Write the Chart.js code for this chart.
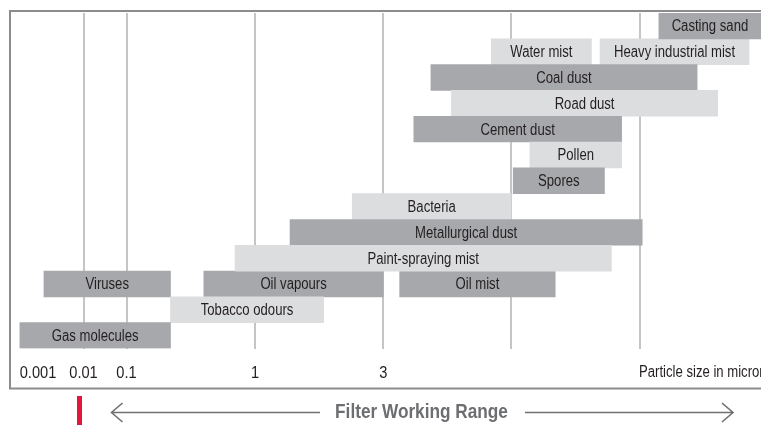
<!DOCTYPE html>
<html>
<head>
<meta charset="utf-8">
<script src="https://cdn.jsdelivr.net/npm/chart.js@4.4.1/dist/chart.umd.min.js"></script>
<style>
  html, body { margin: 0; padding: 0; background: #fff; overflow: hidden; }
  #wrap { width: 761px; height: 425px; }
</style>
</head>
<body>
<div id="wrap"><canvas id="chart" width="761" height="425"></canvas></div>
<script>
// Particle types, one row each, listed from the top row down
const rowNames = [
  'Casting sand', 'Water mist', 'Coal dust', 'Road dust', 'Cement dust',
  'Pollen', 'Spores', 'Bacteria', 'Metallurgical dust', 'Paint-spraying mist',
  'Viruses', 'Tobacco odours', 'Gas molecules'
];
// Size range in micron [from, to] of the main particle type in each row
const rowRanges = [
  [140, 870], [8.3, 42], [4.7, 277], [5.7, 400], [4.0, 72],
  [14, 72], [10.4, 53], [2.3, 10], [1.35, 104], [0.7, 60],
  [0.00135, 0.22], [0.22, 1.8], [0.0004, 0.22]
];
// A second particle type sharing a row
const secondNames = [null, 'Heavy industrial mist', null, null, null, null, null, null, null, null, 'Oil vapours', null, null];
const secondRanges = [null, [49, 700], null, null, null, null, null, null, null, null, [0.4, 3], null, null];
// A third particle type sharing a row
const thirdNames = [null, null, null, null, null, null, null, null, null, null, 'Oil mist', null, null];
const thirdRanges = [null, null, null, null, null, null, null, null, null, null, [3.5, 22], null, null];

// Sizes marked along the size axis, with their printed labels
const tickSizes = [0.001, 0.01, 0.1, 1, 3, 10, 100];
const tickLabels = ['0.001', '0.01', '0.1', '1', '3', '', ''];
const axisTitle = 'Particle size in micron';
const rangeTitle = 'Filter Working Range';

const FONT = '"Liberation Sans", Arial, Helvetica, sans-serif';
const NARROW = 0.82;          // horizontal squeeze giving a condensed face
const DARK = '#a7a8ab';
const LIGHT = '#dcdddf';
const INK = '#231f20';

// Size axis: logarithmic between marked sizes, but each interval gets its own
// share of the width (the sub-micron decades are compressed).
function makeSizeScale(sizes, stops) {
  const logs = sizes.map(Math.log10);
  function toDecimal(v) {
    const lv = Math.log10(v);
    let i = 0;
    while (i < logs.length - 2 && lv > logs[i + 1]) i++;
    const t = (lv - logs[i]) / (logs[i + 1] - logs[i]);
    return stops[i] + t * (stops[i + 1] - stops[i]);
  }
  function fromDecimal(d) {
    let i = 0;
    while (i < stops.length - 2 && d > stops[i + 1]) i++;
    const t = (d - stops[i]) / (stops[i + 1] - stops[i]);
    return Math.pow(10, logs[i] + t * (logs[i + 1] - logs[i]));
  }
  class SizeScale extends Chart.LinearScale {
    determineDataLimits() {
      this.min = sizes[0];
      this.max = sizes[sizes.length - 1];
    }
    buildTicks() {
      return sizes.map(v => ({ value: v }));
    }
    getPixelForValue(value) {
      return this.getPixelForDecimal(toDecimal(value));
    }
    getValueForPixel(pixel) {
      return fromDecimal(this.getDecimalForPixel(pixel));
    }
  }
  SizeScale.id = 'particleSize';
  SizeScale.defaults = {};
  return SizeScale;
}

Chart.register(makeSizeScale(tickSizes, [0.036, 0.0967, 0.154, 0.3253, 0.4964, 0.6667, 0.8387]));

const rowShade = ctx => (ctx.dataIndex % 2 === 0 ? DARK : LIGHT);

// Text in a horizontally condensed version of the face
function condensedText(ctx, text, x, y, align, squeeze) {
  ctx.save();
  ctx.translate(x, y);
  ctx.scale(squeeze, 1);
  ctx.textAlign = align;
  ctx.fillText(text, 0, 0);
  ctx.restore();
}

// Names printed in the middle of each bar, axis labels, the frame and the range arrow
const decorations = {
  id: 'decorations',
  beforeDraw(chart) {
    const ctx = chart.ctx;
    ctx.save();
    ctx.fillStyle = '#fff';
    ctx.fillRect(0, 0, chart.width, chart.height);
    ctx.restore();
  },
  afterDatasetsDraw(chart) {
    const ctx = chart.ctx;
    const area = chart.chartArea;
    ctx.save();
    ctx.font = '16px ' + FONT;
    ctx.fillStyle = INK;
    ctx.textBaseline = 'alphabetic';
    chart.data.datasets.forEach((ds, di) => {
      const meta = chart.getDatasetMeta(di);
      meta.data.forEach((el, i) => {
        const name = ds.names[i];
        if (!name || ds.data[i] == null) return;
        const p = el.getProps(['x', 'base', 'y'], true);
        // centre on the visible part of the bar
        const a = Math.max(Math.min(p.x, p.base), area.left);
        const b = Math.min(Math.max(p.x, p.base), area.right);
        condensedText(ctx, name, (a + b) / 2, p.y + 5.5, 'center', NARROW);
      });
    });
    ctx.restore();
  },
  afterDraw(chart) {
    const ctx = chart.ctx;
    const xs = chart.scales.x;
    ctx.save();
    ctx.fillStyle = INK;
    ctx.textBaseline = 'alphabetic';
    // size labels under their grid lines
    ctx.font = '17px ' + FONT;
    xs.ticks.forEach((t, i) => {
      if (tickLabels[i]) condensedText(ctx, tickLabels[i], xs.getPixelForTick(i), 377.5, 'center', 0.86);
    });
    // axis caption, starting at the last grid line
    ctx.font = '16px ' + FONT;
    condensedText(ctx, axisTitle, xs.getPixelForTick(xs.ticks.length - 1) - 1, 377, 'left', NARROW);

    // frame
    ctx.strokeStyle = '#8c8c8c';
    ctx.lineWidth = 2;
    ctx.strokeRect(10, 11, 800, 377.5);

    // red marker
    ctx.fillStyle = '#e2173b';
    ctx.fillRect(77, 396, 5, 29);

    // range arrow and title
    const y = 412.5;
    ctx.strokeStyle = '#6f7072';
    ctx.lineWidth = 1.6;
    ctx.beginPath();
    ctx.moveTo(111.5, y); ctx.lineTo(320, y);
    ctx.moveTo(122.5, y - 9.5); ctx.lineTo(111.5, y); ctx.lineTo(122.5, y + 9.5);
    ctx.moveTo(525, y); ctx.lineTo(733, y);
    ctx.moveTo(722, y - 9.5); ctx.lineTo(733, y); ctx.lineTo(722, y + 9.5);
    ctx.stroke();
    ctx.font = 'bold 21px ' + FONT;
    ctx.fillStyle = '#6d6e71';
    condensedText(ctx, rangeTitle, 421.5, 418, 'center', NARROW);
    ctx.restore();
  }
};

new Chart(document.getElementById('chart'), {
  type: 'bar',
  data: {
    labels: rowNames,
    datasets: [
      { names: rowNames, data: rowRanges, backgroundColor: rowShade },
      { names: secondNames, data: secondRanges, backgroundColor: rowShade },
      { names: thirdNames, data: thirdRanges, backgroundColor: rowShade }
    ]
  },
  options: {
    responsive: false,
    animation: false,
    indexAxis: 'y',
    layout: { padding: { left: 11, right: 0, top: 13, bottom: 36.5 } },
    datasets: { bar: { grouped: false, barPercentage: 1, categoryPercentage: 1, borderWidth: 0 } },
    plugins: { legend: { display: false }, tooltip: { enabled: false } },
    scales: {
      x: {
        type: 'particleSize',
        position: 'bottom',
        afterFit: s => { s.height = 40; },
        border: { display: false },
        grid: {
          drawTicks: false,
          lineWidth: 2,
          color: ctx => (ctx.index === 0 ? 'rgba(0,0,0,0)' : '#c5c5c5')
        },
        ticks: { display: false, autoSkip: false, maxRotation: 0 }
      },
      y: { display: false }
    }
  },
  plugins: [decorations]
});
</script>
</body>
</html>
